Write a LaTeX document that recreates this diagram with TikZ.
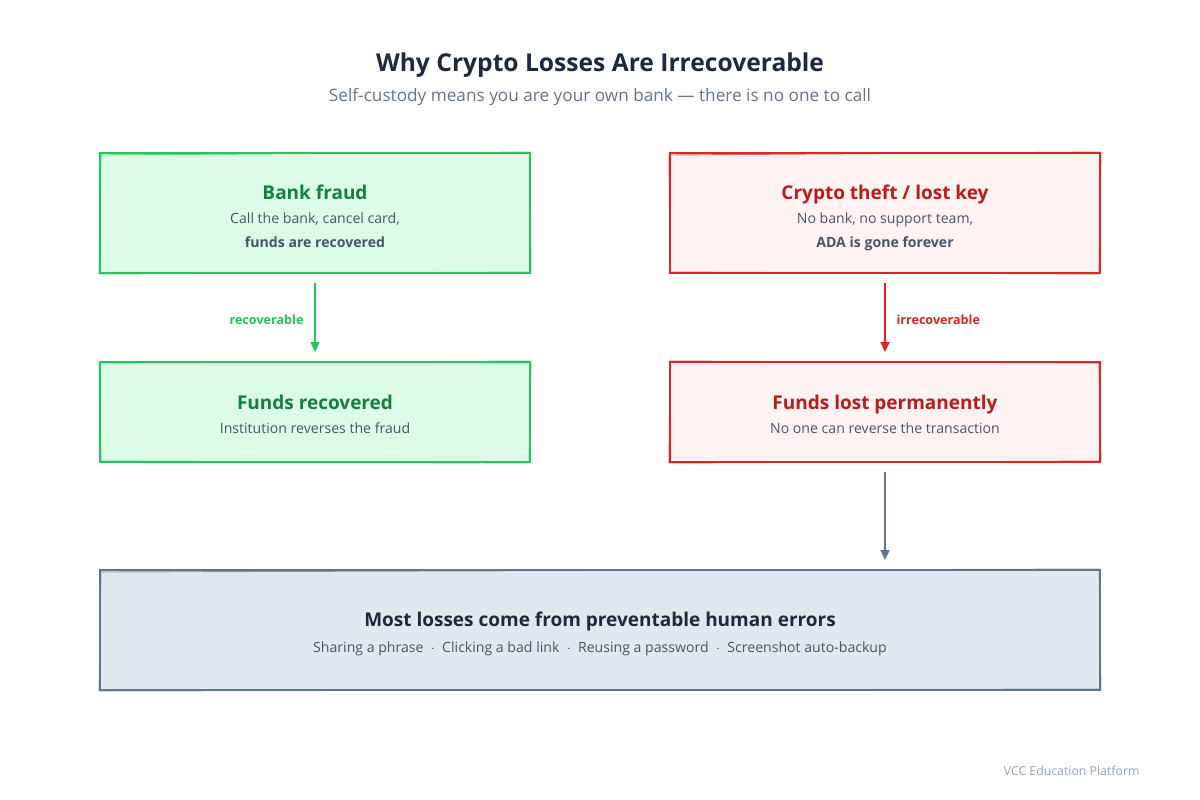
\documentclass[tikz,border=0pt]{standalone}
\usepackage{fontspec}
\setmainfont{Open Sans}
\usetikzlibrary{arrows.meta,calc}
\definecolor{gborder}{HTML}{22C55E}
\definecolor{gfill}{HTML}{DCFCE7}
\definecolor{gtext}{HTML}{15803D}
\definecolor{rborder}{HTML}{DC2626}
\definecolor{rfill}{HTML}{FEF2F2}
\definecolor{rtext}{HTML}{B91C1C}
\definecolor{sborder}{HTML}{64748B}
\definecolor{sfill}{HTML}{E2E8F0}
\definecolor{dark}{HTML}{1E293B}
\definecolor{body}{HTML}{475569}
\definecolor{sub}{HTML}{64748B}
\definecolor{foot}{HTML}{94A3B8}
\tikzset{
  boxx/.style={draw, line width=2pt, minimum width=430pt, inner sep=0pt},
  ttl/.style={anchor=base, font=\bfseries\fontsize{19}{23}\selectfont},
  txt/.style={anchor=base, text=body, font=\fontsize{14.1}{17}\selectfont},
  lbl/.style={anchor=base, font=\bfseries\fontsize{12.6}{15}\selectfont},
  arr/.style={line width=2pt, -{Triangle[length=10pt,width=9pt]}, shorten <=9pt, shorten >=9pt},
}
\begin{document}
\begin{tikzpicture}[x=1pt,y=-1pt]
\useasboundingbox (0,0) rectangle (1200,800);
\fill[white] (0,0) rectangle (1200,800);

\node[anchor=base, text=dark, font=\bfseries\fontsize{24.6}{29}\selectfont] (title) at (600,71) {Why Crypto Losses Are Irrecoverable};
\node[anchor=base, text=sub, font=\fontsize{17.2}{20}\selectfont] (subtitle) at (600,102) {Self-custody means you are your own bank — there is no one to call};

% boxes
\node[boxx, draw=gborder, fill=gfill, minimum height=120pt] (bank) at (315,213) {};
\node[boxx, draw=rborder, fill=rfill, minimum height=120pt] (crypto) at (885,213) {};
\node[boxx, draw=gborder, fill=gfill, minimum height=100pt] (rec) at (315,412) {};
\node[boxx, draw=rborder, fill=rfill, minimum height=100pt] (lost) at (885,412) {};
\node[boxx, draw=sborder, fill=sfill, minimum height=120pt, minimum width=1000pt] (most) at (600,630) {};

% sketchy second strokes
\draw[gborder, line width=0.9pt, opacity=0.7] (101,155) -- (530,152) -- (531,272) -- (99,274) -- cycle;
\draw[rborder, line width=0.9pt, opacity=0.7] (669,155) -- (1101,152) -- (1099,274) -- (670,272) -- cycle;
\draw[gborder, line width=0.9pt, opacity=0.7] (99,363) -- (531,361) -- (529,463) -- (101,461) -- cycle;
\draw[rborder, line width=0.9pt, opacity=0.7] (670,361) -- (1099,363) -- (1101,461) -- (669,463) -- cycle;
\draw[sborder, line width=0.9pt, opacity=0.7] (101,572) -- (1099,569) -- (1101,689) -- (99,691) -- cycle;

% texts
\node[ttl, text=gtext] (bankt) at (315,199) {Bank fraud};
\node[txt] (bank1) at (315,223) {Call the bank, cancel card,};
\node[txt, font=\bfseries\fontsize{14.1}{17}\selectfont] (bank2) at (315,247) {funds are recovered};

\node[ttl, text=rtext] (cryptot) at (885,199) {Crypto theft / lost key};
\node[txt] (crypto1) at (885,223) {No bank, no support team,};
\node[txt, font=\bfseries\fontsize{14.1}{17}\selectfont] (crypto2) at (885,247) {ADA is gone forever};

\node[ttl, text=gtext] (rect) at (315,409) {Funds recovered};
\node[txt] (rec1) at (315,433) {Institution reverses the fraud};

\node[ttl, text=rtext] (lostt) at (885,409) {Funds lost permanently};
\node[txt] (lost1) at (885,433) {No one can reverse the transaction};

\node[ttl, text=dark] (mostt) at (600,626) {Most losses come from preventable human errors};
\node[txt] (most1) at (600,652) {Sharing a phrase~~$\cdot$~~Clicking a bad link~~$\cdot$~~Reusing a password~~$\cdot$~~Screenshot auto-backup};

% arrows
\draw[arr, gborder] (bank.south) -- (rec.north);
\draw[arr, rborder] (crypto.south) -- (lost.north);
\draw[arr, sborder] (lost.south) -- (lost.south |- most.north);

\node[lbl, text=gborder, anchor=base east] (l1) at (307,324) {recoverable};
\node[lbl, text=rborder, anchor=base west] (l2) at (893,324) {irrecoverable};

\node[anchor=base east, text=foot, font=\fontsize{12.3}{14}\selectfont] (footer) at (1143,775) {VCC Education Platform};
\end{tikzpicture}
\end{document}
